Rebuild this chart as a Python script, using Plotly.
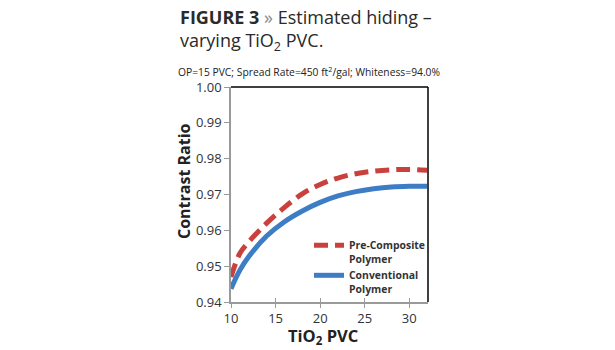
import plotly.graph_objects as go

# TiO2 PVC levels and estimated contrast ratio for each polymer
tio2_pvc = [10, 11, 12, 14, 16, 18, 20, 22, 24, 26, 28, 30, 32]
pre_composite = [0.9470, 0.9536, 0.9568, 0.9620, 0.9664, 0.9702, 0.9728,
                 0.9746, 0.9758, 0.9765, 0.9769, 0.9770, 0.9768]
conventional = [0.9437, 0.9489, 0.9527, 0.9584, 0.9624, 0.9654, 0.9678,
                0.9696, 0.9708, 0.9716, 0.9721, 0.9723, 0.9723]

x_ticks = [10, 15, 20, 25, 30]
y_ticks = [0.94, 0.95, 0.96, 0.97, 0.98, 0.99, 1.00]
y_tick_text = ["0.94", "0.95", "0.96", "0.97", "0.98", "0.99", "1.00"]

W, H = 615, 350
L, R, T, B = 231, 187, 87, 48
pw, ph = W - L - R, H - T - B


def px_x(px):
    return (px - L) / pw


def px_y(py):
    return (H - B - py) / ph


RED = "#C8413D"
BLUE = "#3C7DC6"
GREY = "#9A9A9A"
FONT = "Open Sans"

fig = go.Figure()
fig.add_trace(go.Scatter(
    x=tio2_pvc, y=pre_composite, mode="lines", name="Pre-Composite<br>Polymer",
    line=dict(color=RED, width=5, dash="14px,7px", shape="spline"),
))
fig.add_trace(go.Scatter(
    x=tio2_pvc, y=conventional, mode="lines", name="Conventional<br>Polymer",
    line=dict(color=BLUE, width=5, shape="spline"),
))
# invisible trace carrying the inner half of the crossing x ticks
fig.add_trace(go.Scatter(x=[tio2_pvc[0]], y=[conventional[0]], xaxis="x2",
                         mode="lines", showlegend=False, hoverinfo="skip",
                         line=dict(width=0)))

fig.update_layout(
    width=W, height=H,
    margin=dict(l=L, r=R, t=T, b=B),
    paper_bgcolor="white", plot_bgcolor="white",
    font=dict(family=FONT, color="#333333"),
    showlegend=True,
    legend=dict(
        x=px_x(309), y=px_y(232), xanchor="left", yanchor="top",
        bgcolor="rgba(0,0,0,0)", borderwidth=0, valign="top",
        font=dict(family=FONT, size=10.4, color="#333333", weight="bold"),
        itemwidth=30, tracegroupgap=0,
    ),
    xaxis=dict(
        range=[10, 32.1], tickvals=x_ticks, showgrid=False, zeroline=False,
        showline=True, linecolor=GREY, linewidth=1.5,
        ticks="outside", ticklen=4, tickcolor=GREY, tickwidth=1,
        tickfont=dict(size=13, color="#333333"),
    ),
    xaxis2=dict(
        range=[10, 32.1], tickvals=x_ticks, overlaying="x", side="bottom",
        showgrid=False, zeroline=False, showline=False, showticklabels=False,
        ticks="inside", ticklen=4, tickcolor=GREY, tickwidth=1,
    ),
    yaxis=dict(
        range=[0.94, 1.00], tickvals=y_ticks, ticktext=y_tick_text,
        showgrid=False, zeroline=False,
        showline=True, linecolor=GREY, linewidth=1.5,
        ticks="outside", ticklen=5, tickcolor=GREY, tickwidth=1,
        tickfont=dict(size=13, color="#333333"),
    ),
    shapes=[
        dict(type="line", xref="paper", yref="paper", x0=0, x1=1, y0=1, y1=1,
             line=dict(color="black", width=1.5)),
        dict(type="line", xref="paper", yref="paper", x0=1, x1=1, y0=0, y1=1,
             line=dict(color="black", width=1.5)),
    ],
    annotations=[
        dict(xref="paper", yref="paper", x=px_x(178), y=px_y(3),
             xanchor="left", yanchor="top", align="left", showarrow=False,
             text="<b>FIGURE 3</b> <span style='color:#8a8a8a'>»</span> "
                  "Estimated hiding –<br>varying TiO<sub>2</sub> PVC.",
             font=dict(family=FONT, size=18, color="#2a2a2a")),
        dict(xref="paper", yref="paper", x=px_x(176), y=px_y(71),
             xanchor="left", yanchor="middle", showarrow=False,
             text="OP=15 PVC; Spread Rate=450 ft<sup>2</sup>/gal; Whiteness=94.0%",
             font=dict(family=FONT, size=10.3, color="#222222")),
        dict(xref="paper", yref="paper", x=px_x(184), y=px_y(181),
             xanchor="center", yanchor="middle", textangle=-90, showarrow=False,
             text="<b>Contrast Ratio</b>",
             font=dict(family=FONT, size=16, color="#222222")),
        dict(xref="paper", yref="paper", x=px_x(323), y=px_y(336),
             xanchor="center", yanchor="middle", showarrow=False,
             text="<b>TiO<sub>2</sub> PVC</b>",
             font=dict(family=FONT, size=16.5, color="#222222")),
    ],
)

fig.write_html("out.html")
